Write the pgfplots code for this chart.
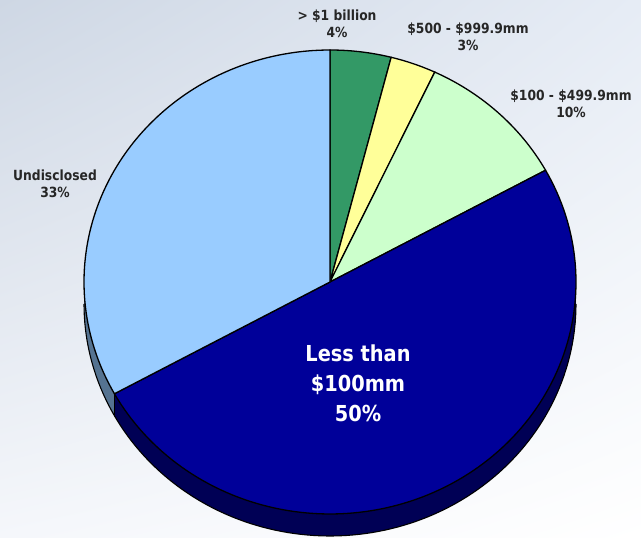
\documentclass[border=0pt]{standalone}
\usepackage{pgfplots}
\pgfplotsset{compat=1.18}
\usetikzlibrary{shadings}
\usepackage{fontspec}
\setmainfont{DejaVu Sans}
\newfontfamily\lblfont{DejaVu Sans}[FakeStretch=0.88]
\definecolor{cGreen}{RGB}{51,153,102}
\definecolor{cYellow}{RGB}{255,255,153}
\definecolor{cLGreen}{RGB}{204,255,204}
\definecolor{cNavy}{RGB}{0,0,153}
\definecolor{cLBlue}{RGB}{153,204,255}
\definecolor{sNavy}{RGB}{0,0,85}
\definecolor{sLBlue}{RGB}{85,115,145}
\definecolor{bgA}{RGB}{206,215,228}
\definecolor{bgB}{RGB}{230,236,245}
\definecolor{bgC}{RGB}{245,247,251}
\def\cx{330}\def\cy{256}\def\rx{246}\def\ry{232}\def\th{22}
\begin{document}
\begin{tikzpicture}
\begin{axis}[hide axis, scale only axis, width=641pt, height=538pt,
  xmin=0, xmax=641, ymin=0, ymax=538, clip=false]
% background
\shade[upper left=bgA, upper right=bgB, lower left=bgC, lower right=white]
  (axis cs:0,0) rectangle (axis cs:641,538);
% side of the pie (stacked layers)
\pgfplotsinvokeforeach{22,21,...,1}{
  \addplot[draw=none, fill=sNavy, domain=25:67, samples=60]
    ({\cx+\rx*sin(3.6*x)}, {\cy+\ry*cos(3.6*x)-#1}) -- (axis cs:\cx,\cy-#1) -- cycle;
  \addplot[draw=none, fill=sLBlue, domain=67:75, samples=20]
    ({\cx+\rx*sin(3.6*x)}, {\cy+\ry*cos(3.6*x)-#1}) -- (axis cs:\cx,\cy-#1) -- cycle;
}
% bottom outline
\addplot[draw=black, line width=1.1pt, domain=25:75, samples=120]
  ({\cx+\rx*sin(3.6*x)}, {\cy+\ry*cos(3.6*x)-\th});
\draw[black, line width=0.8pt] (axis cs:114.4,144.2) -- (axis cs:114.4,122.2);
% top face
\addplot[fill=cGreen, draw=black, line width=1.3pt, domain=0:4, samples=20]
  ({\cx+\rx*sin(3.6*x)}, {\cy+\ry*cos(3.6*x)}) -- (axis cs:\cx,\cy) -- cycle;
\addplot[fill=cYellow, draw=black, line width=1.3pt, domain=4:7, samples=20]
  ({\cx+\rx*sin(3.6*x)}, {\cy+\ry*cos(3.6*x)}) -- (axis cs:\cx,\cy) -- cycle;
\addplot[fill=cLGreen, draw=black, line width=1.3pt, domain=7:17, samples=40]
  ({\cx+\rx*sin(3.6*x)}, {\cy+\ry*cos(3.6*x)}) -- (axis cs:\cx,\cy) -- cycle;
\addplot[fill=cNavy, draw=black, line width=1.3pt, domain=17:67, samples=120]
  ({\cx+\rx*sin(3.6*x)}, {\cy+\ry*cos(3.6*x)}) -- (axis cs:\cx,\cy) -- cycle;
\addplot[fill=cLBlue, draw=black, line width=1.3pt, domain=67:100, samples=90]
  ({\cx+\rx*sin(3.6*x)}, {\cy+\ry*cos(3.6*x)}) -- (axis cs:\cx,\cy) -- cycle;
% labels
\node[align=center, font=\lblfont\bfseries\fontsize{14}{17}\selectfont, text=black!85]
  at (axis cs:337,514) {> \$1 billion\\4\%};
\node[align=center, font=\lblfont\bfseries\fontsize{14}{17}\selectfont, text=black!85]
  at (axis cs:468,501) {\$500 - \$999.9mm\\3\%};
\node[align=center, font=\lblfont\bfseries\fontsize{14}{17}\selectfont, text=black!85]
  at (axis cs:571,434) {\$100 - \$499.9mm\\10\%};
\node[align=center, font=\lblfont\bfseries\fontsize{14}{17}\selectfont, text=black!85]
  at (axis cs:55,354) {Undisclosed\\33\%};
\node[align=center, font=\lblfont\bfseries\fontsize{22}{30}\selectfont, text=white]
  at (axis cs:358,155) {Less than\\\$100mm\\50\%};
\end{axis}
\end{tikzpicture}
\end{document}
